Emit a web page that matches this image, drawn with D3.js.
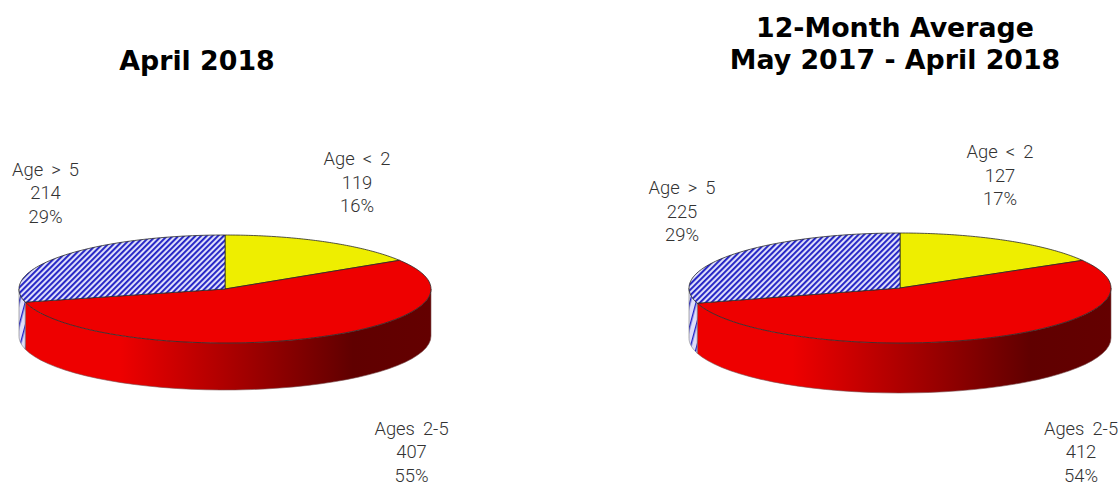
<!DOCTYPE html>
<html><head><meta charset="utf-8">
<script src="https://cdnjs.cloudflare.com/ajax/libs/d3/7.8.5/d3.min.js"></script>
<style>html,body{margin:0;padding:0;background:#fff}svg{display:block}
.t{font-family:"DejaVu Sans",Verdana,sans-serif;font-weight:700;font-size:26.8px;fill:#000;text-anchor:middle}
.l{font-family:Roboto,"DejaVu Sans",sans-serif;font-weight:300;font-size:18.4px;word-spacing:3.5px;fill:#333;text-anchor:middle}
</style></head><body><svg id="c" width="1120" height="485"></svg>
<script>
const categories=["Age < 2","Ages 2-5","Age > 5"];
const monthValues=[119,407,214];
const monthPercents=["16%","55%","29%"];
const avgValues=[127,412,225];
const avgPercents=["17%","54%","29%"];
const colors=["#eeee00","#ee0000","url(#hatch)"];
const wallColors=["#eeee00","#ee0000","url(#hatchWall)"];
const monthTitle=["April 2018"];
const avgTitle=["12-Month Average","May 2017 - April 2018"];

const svg=d3.select("#c");
const defs=svg.append("defs");
function pattern(id,w,bar,rot){
 const p=defs.append("pattern").attr("id",id).attr("width",w).attr("height",w)
  .attr("patternUnits","userSpaceOnUse").attr("patternTransform",`rotate(${rot})`);
 p.append("rect").attr("width",w).attr("height",w).attr("fill","#dedefa");
 p.append("rect").attr("width",bar).attr("height",w).attr("fill","#2020c4");
}
pattern("hatch",4,1.9,45);
pattern("hatchWall",6,1.4,15);

function grad(id,cx,rx){
 const g=defs.append("linearGradient").attr("id",id).attr("gradientUnits","userSpaceOnUse")
  .attr("x1",cx-rx).attr("x2",cx+rx).attr("y1",0).attr("y2",0);
 [[0,"#ee0000"],[0.245,"#ee0000"],[0.81,"#600000"],[1,"#640000"]]
  .forEach(s=>g.append("stop").attr("offset",s[0]).attr("stop-color",s[1]));
}
function drawPie(o){
 grad(o.id,o.cx,o.rx);
 const pie=d3.pie().sort(null)(o.values);
 const px=a=>o.cx+o.rx*Math.sin(a), py=a=>o.cy-o.ry*Math.cos(a);
 const g=svg.append("g");
 const wall=(a0,a1)=>{
  const s=Math.max(a0,Math.PI/2), e=Math.min(a1,Math.PI*1.5);
  if(e<=s) return null;
  const as=d3.range(0,41).map(i=>s+(e-s)*i/40);
  const top=as.map(a=>[px(a),py(a)]), bot=as.slice().reverse().map(a=>[px(a),py(a)+o.depth]);
  return d3.line()(top.concat(bot))+"Z";
 };
 pie.forEach((d,i)=>{
  const p=wall(d.startAngle,d.endAngle); if(!p) return;
  g.append("path").attr("d",p).attr("fill",i===1?`url(#${o.id})`:wallColors[i])
   .attr("stroke",i===1?"#7a5050":"#777").attr("stroke-width",0.6);
 });
 const slice=(d)=>{
  const as=d3.range(0,81).map(i=>d.startAngle+(d.endAngle-d.startAngle)*i/80);
  return d3.line()([[o.cx,o.cy]].concat(as.map(a=>[px(a),py(a)])))+"Z";
 };
 pie.forEach((d,i)=>{
  g.append("path").attr("d",slice(d)).attr("fill",colors[i])
   .attr("stroke","#2a2a2a").attr("stroke-width",0.8);
 });
 o.labelPos.forEach((lp,i)=>{
  [categories[i],o.values[i],o.percents[i]].forEach((s,j)=>
   svg.append("text").attr("class","l").attr("x",lp[0]).attr("y",lp[1]+j*23.5).text(s));
 });
 o.title.forEach((s,j)=>svg.append("text").attr("class","t").attr("x",o.tx).attr("y",o.ty+j*31.5).text(s));
}
drawPie({id:"g1",cx:225,cy:289,rx:206,ry:54,depth:47,values:monthValues,percents:monthPercents,title:monthTitle,tx:197,ty:70,
 labelPos:[[357,165],[411.5,434.5],[45.5,175.5]]});
drawPie({id:"g2",cx:900,cy:288,rx:211,ry:55,depth:50,values:avgValues,percents:avgPercents,title:avgTitle,tx:895,ty:37,
 labelPos:[[1000,158],[1081,434.5],[682,194]]});
</script></body></html>
